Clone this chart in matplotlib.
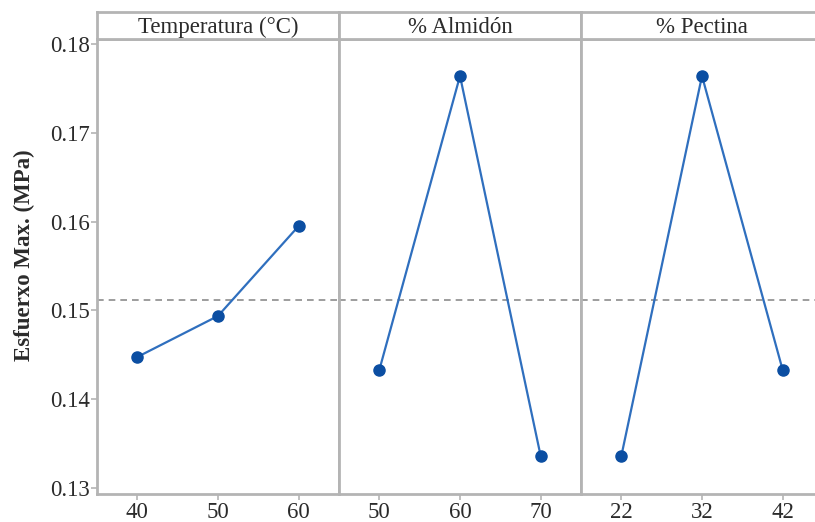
import matplotlib

matplotlib.use("Agg")
import matplotlib.pyplot as plt

plt.rcParams["font.family"] = ["Liberation Serif", "DejaVu Serif"]

# main effects for maximum stress, one panel per factor
factors = ["Temperatura (°C)", "% Almidón", "% Pectina"]
levels = [["40", "50", "60"], ["50", "60", "70"], ["22", "32", "42"]]
means = [
    [0.14475, 0.14937, 0.15950],
    [0.14329, 0.17640, 0.13360],
    [0.13360, 0.17640, 0.14329],
]
grand_mean = 0.15121
y_ticks = [0.13, 0.14, 0.15, 0.16, 0.17, 0.18]

frame = "#b4b4b4"
line_c = "#2f6fbe"
dot_c = "#0b4ea2"
text_c = "#2b2b2b"
fs = 16.5

fig = plt.figure(figsize=(8.15, 5.22), dpi=100)
W, H = 815, 522
left, panel_w = 97, 242
top_strip, strip_h = 12, 27
bottom = 494

for i, (name, labs, vals) in enumerate(zip(factors, levels, means)):
    x0 = left + i * panel_w
    ax = fig.add_axes([x0 / W, 1 - bottom / H, panel_w / W,
                       (bottom - top_strip - strip_h) / H])
    xs = range(len(vals))
    ax.plot(xs, vals, color=line_c, lw=1.6, zorder=3)
    ax.plot(xs, vals, "o", color=dot_c, ms=8, zorder=4)
    ax.axhline(grand_mean, color="#8c8c8c", lw=1.2, ls=(0, (4, 3)), zorder=2)
    ax.set_xlim(-0.5, 2.5)
    ax.set_ylim(0.12932, 0.18056)
    ax.set_xticks(list(xs))
    ax.set_xticklabels(labs, fontsize=fs, color=text_c)
    ax.set_yticks(y_ticks)
    for s in ax.spines.values():
        s.set_color(frame)
        s.set_linewidth(2)
    ax.tick_params(axis="both", color=frame, length=4, width=1.2,
                   labelcolor=text_c)
    ax.tick_params(axis="x", pad=2)
    if i == 0:
        ax.set_yticklabels([f"{v:.2f}" for v in y_ticks], fontsize=fs)
        ax.tick_params(axis="y", pad=1)
        ax.set_ylabel("Esfuerxo Max. (MPa)", fontsize=fs, fontweight="bold",
                      color=text_c)
        ax.yaxis.set_label_coords(-0.258, 0.525)
    else:
        ax.tick_params(axis="y", left=False, labelleft=False)

    # factor header strip
    hx = fig.add_axes([x0 / W, 1 - (top_strip + strip_h) / H, panel_w / W,
                       strip_h / H])
    hx.set_xticks([])
    hx.set_yticks([])
    for s in hx.spines.values():
        s.set_color(frame)
        s.set_linewidth(2)
    hx.text(0.5, 0.42, name, ha="center", va="center", fontsize=fs,
            color=text_c, transform=hx.transAxes)

fig.savefig("out.png", dpi=100)
